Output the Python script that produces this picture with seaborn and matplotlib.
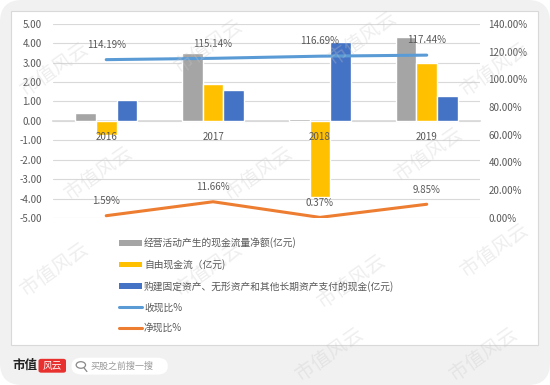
import matplotlib
matplotlib.use("Agg")
import matplotlib.pyplot as plt
from matplotlib.patches import FancyBboxPatch, Rectangle, Patch, Circle
from matplotlib.lines import Line2D
from matplotlib.ticker import FuncFormatter, MultipleLocator
import pandas as pd
import seaborn as sns

# data
years = ["2016", "2017", "2018", "2019"]
op_cash = [0.42, 3.52, 0.12, 4.30]
free_cash = [-0.72, 1.90, -3.90, 3.00]
capex = [1.10, 1.60, 4.05, 1.30]
cash_ratio = [114.19, 115.14, 116.69, 117.44]
net_ratio = [1.59, 11.66, 0.37, 9.85]

bar_names = ["经营活动产生的现金流量净额(亿元)", "自由现金流（亿元)",
             "购建固定资产、无形资产和其他长期资产支付的现金(亿元)"]
line_names = ["收现比%", "净现比%"]
bar_colors = ["#A5A5A5", "#FFC000", "#4472C4"]
line_colors = ["#5B9BD5", "#ED7D31"]

df = pd.DataFrame({
    "year": years * 3,
    "value": op_cash + free_cash + capex,
    "series": [bar_names[0]] * 4 + [bar_names[1]] * 4 + [bar_names[2]] * 4,
})

sns.set_theme(style="white")
plt.rcParams["font.family"] = ["Noto Sans CJK SC", "DejaVu Sans"]
text_col = "#595959"

fig = plt.figure(figsize=(5.5, 3.85), dpi=100)
fig.patch.set_facecolor("white")

# gray rounded background and white chart frame
bg = FancyBboxPatch((0, 0), 1, 1, boxstyle="round,pad=0,rounding_size=0.04",
                    transform=fig.transFigure, facecolor="#f1f1f1", edgecolor="none",
                    zorder=-20, mutation_aspect=550 / 385)
fig.patches.append(bg)
frame = Rectangle((0.02, 0.104), 0.958, 0.867, transform=fig.transFigure,
                  facecolor="white", edgecolor="#d9d9d9", linewidth=0.8, zorder=-10)
fig.patches.append(frame)

ax = fig.add_axes([0.096, 0.434, 0.777, 0.504])
ax.set_facecolor("none")
sns.barplot(data=df, x="year", y="value", hue="series", palette=bar_colors,
            width=0.58, gap=0, saturation=1, ax=ax, legend=False, zorder=3)
ax.set_xlim(-0.5, 3.5)
ax.set_ylim(-5, 5)
ax.yaxis.set_major_locator(MultipleLocator(1))
ax.yaxis.set_major_formatter(FuncFormatter(lambda v, p: f"{v:.2f}"))
ax.grid(axis="y", color="#d9d9d9", linewidth=0.8, zorder=0)
ax.set_axisbelow(True)
ax.xaxis.set_zorder(5)
for s in ["top", "right", "left"]:
    ax.spines[s].set_visible(False)
ax.spines["bottom"].set_position(("data", 0))
ax.spines["bottom"].set_color("#d9d9d9")
ax.spines["bottom"].set_zorder(1)
ax.tick_params(axis="both", length=0, labelsize=7, colors=text_col)
ax.tick_params(axis="x", pad=8)
ax.tick_params(axis="y", pad=8)
ax.set_xlabel("")
ax.set_ylabel("")

ax2 = ax.twinx()
for vals, col in zip([cash_ratio, net_ratio], line_colors):
    sns.lineplot(x=list(range(4)), y=[v / 100 for v in vals], color=col,
                 linewidth=2.2, ax=ax2, zorder=4)
    for i, v in enumerate(vals):
        ax2.annotate(f"{v:.2f}%", (i, v / 100), xytext=(0, 7), textcoords="offset points",
                     ha="center", va="bottom", fontsize=7, color=text_col)
ax2.set_ylim(0, 1.4)
ax2.yaxis.set_major_locator(MultipleLocator(0.2))
ax2.yaxis.set_major_formatter(FuncFormatter(lambda v, p: f"{v * 100:.2f}%"))
for s in ax2.spines.values():
    s.set_visible(False)
ax2.tick_params(axis="y", length=0, labelsize=7, colors=text_col, pad=6)

handles = [Patch(facecolor=c, edgecolor="none") for c in bar_colors]
handles += [Line2D([0], [0], color=c, linewidth=2.2) for c in line_colors]
fig.legend(handles, bar_names + line_names, loc="upper left", bbox_to_anchor=(0.2, 0.406),
           frameon=False, fontsize=7, labelcolor=text_col, handlelength=2.4,
           handleheight=0.5, handletextpad=0.2, labelspacing=1.1)

# watermarks
wm = [(0.1, 0.82), (0.38, 0.88), (0.66, 0.9), (0.9, 0.82), (0.18, 0.55), (0.47, 0.55),
      (0.78, 0.6), (0.1, 0.3), (0.38, 0.3), (0.64, 0.27), (0.9, 0.35), (0.6, 0.08),
      (0.88, 0.08)]
for x, y in wm:
    fig.text(x, y, "市值风云", rotation=35, fontsize=14, color="#c8c8c8", alpha=0.3,
             ha="center", va="center", zorder=5)

# footer
fig.text(0.022, 0.05, "市值", fontsize=9, fontweight="bold", color="#222222", va="center")
logo = FancyBboxPatch((0.07, 0.032), 0.05, 0.036, boxstyle="round,pad=0,rounding_size=0.005",
                      transform=fig.transFigure, facecolor="#e8312f", edgecolor="none")
fig.patches.append(logo)
fig.text(0.095, 0.05, "风云", fontsize=7, color="white", style="italic", ha="center", va="center")
pill = FancyBboxPatch((0.13, 0.027), 0.175, 0.044, boxstyle="round,pad=0,rounding_size=0.02",
                      transform=fig.transFigure, facecolor="white", edgecolor="none")
fig.patches.append(pill)
fig.patches.append(Circle((0.147, 0.052), 0.0085, transform=fig.transFigure, fill=False,
                          edgecolor="#888888", linewidth=0.9))
fig.add_artist(Line2D([0.153, 0.158], [0.044, 0.035], transform=fig.transFigure,
                      color="#888888", linewidth=0.9))
fig.text(0.165, 0.049, "买股之前搜一搜", fontsize=6.5, color="#999999", va="center")

fig.savefig("out.png", dpi=100, facecolor=fig.get_facecolor())
